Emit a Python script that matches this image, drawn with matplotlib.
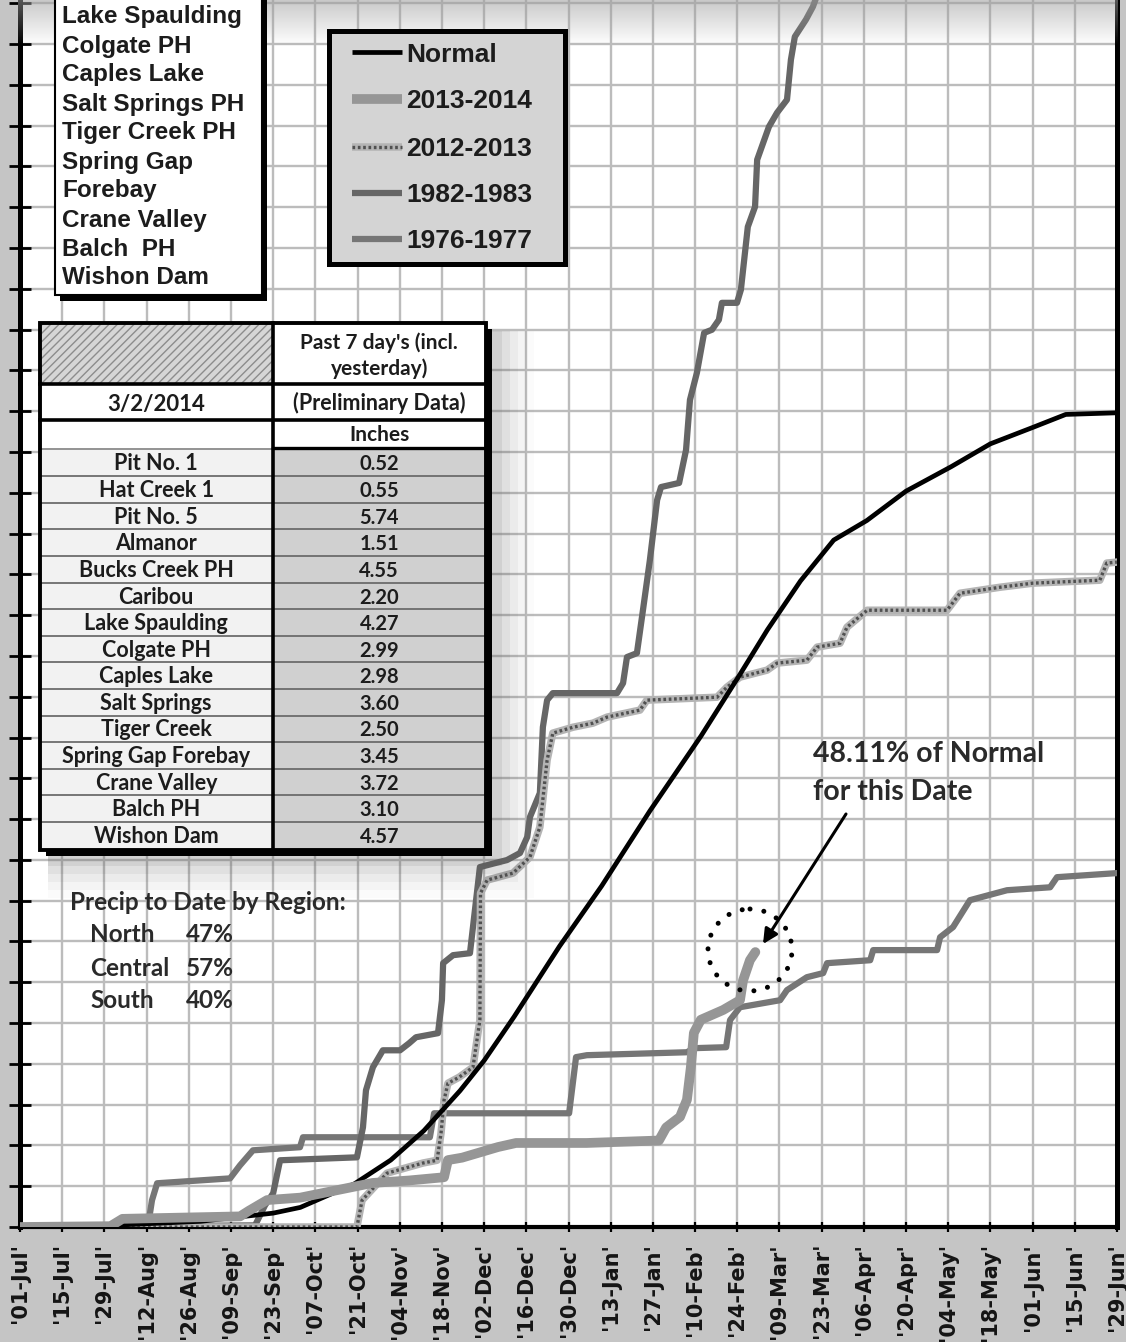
import matplotlib
matplotlib.use("Agg")
import matplotlib.pyplot as plt
from matplotlib.patches import Rectangle, Ellipse
from matplotlib.lines import Line2D
import numpy as np

# ---------------- data ----------------
tick_days = list(range(0, 365, 14))
tick_labels = ["'01-Jul'", "'15-Jul'", "'29-Jul'", "'12-Aug'", "'26-Aug'", "'09-Sep'",
               "'23-Sep'", "'07-Oct'", "'21-Oct'", "'04-Nov'", "'18-Nov'", "'02-Dec'",
               "'16-Dec'", "'30-Dec'", "'13-Jan'", "'27-Jan'", "'10-Feb'", "'24-Feb'",
               "'09-Mar'", "'23-Mar'", "'06-Apr'", "'20-Apr'", "'04-May'", "'18-May'",
               "'01-Jun'", "'15-Jun'", "'29-Jun'"]

normal_days = [0, 30, 60, 84, 93, 111, 123, 134, 146, 154, 164, 179, 193, 209, 226, 239,
               248, 259, 270, 281, 294, 309, 322, 336, 347, 364]
normal_in = [0, 0.1, 0.35, 0.85, 1.2, 2.65, 4.1, 5.9, 8.35, 10.2, 12.9, 17.2, 20.9, 25.5,
             30.1, 33.9, 36.6, 39.6, 42.1, 43.3, 45.1, 46.6, 48.0, 49.0, 49.8, 49.9]

wy2014_days = [0, 30, 34, 73, 76, 82, 93, 105, 117, 129, 140.7, 142, 146.7, 158.6, 164.6,
               188, 212, 214.4, 219, 221.3, 222.6, 223.6, 225.9, 233.3, 238.9, 239.9,
               242.2, 244]
wy2014_in = [0, 0.05, 0.5, 0.65, 1.0, 1.65, 1.8, 2.25, 2.7, 2.85, 3.05, 4.1, 4.25, 4.9,
             5.15, 5.15, 5.3, 6.1, 6.75, 7.8, 9.8, 11.9, 12.7, 13.3, 13.9, 15.1, 16.35, 16.85]

wy2013_days = [0, 111.8, 113.5, 121.8, 133.7, 138.4, 139.7, 140.7, 142, 145.7, 150.3, 152.6,
               152.8, 155, 163.6, 169.2, 172.5, 174.9, 176.8, 183.5, 190.1, 194.8, 205.7,
               208, 231.3, 234.6, 238.9, 247.9, 251.2, 261.1, 264.5, 272.1, 274.4, 281.1,
               307.6, 311.9, 325.2, 336.1, 358.3, 360.6, 364]
wy2013_in = [0, 0, 1.64, 3.3, 3.92, 4.09, 5.75, 7.77, 8.81, 9.18, 9.79, 12.68, 20.46, 21.26,
             21.69, 22.67, 24.51, 28.61, 30.27, 30.63, 30.88, 31.25, 31.68, 32.29, 32.47,
             33.09, 33.7, 34.13, 34.56, 34.74, 35.54, 35.78, 36.76, 37.8, 37.8, 38.84,
             39.21, 39.46, 39.64, 40.69, 40.75]

wy1983_days = [0, 78, 81.3, 84, 86.3, 111.8, 113.8, 114.8, 117.1, 120.4, 126.1, 129.1, 131.4,
               138.7, 140, 140.4, 143.7, 149.3, 150.3, 151.6, 152.6, 161.6, 165.9, 168.3,
               169.2, 172.5, 173.5, 174.9, 176.8, 198.1, 200.1, 201.4, 204.7, 206.7, 209,
               211.4, 212.7, 218.7, 221, 222.3, 224.6, 227, 229.6, 231.9, 232.9, 237.9,
               239.2, 241.5, 243.9, 244.6, 248.5, 251.2, 254.5, 255.8, 257.1, 260.8, 263.1,
               265.5]
wy1983_in = [0, 0.1, 1.33, 2.07, 4.09, 4.27, 6.11, 8.38, 9.79, 10.83, 10.83, 11.26, 11.63,
             11.88, 13.9, 16.17, 16.66, 16.78, 18.38, 20.46, 22.06, 22.49, 22.92, 23.9,
             25.12, 26.6, 30.64, 32.29, 32.72, 32.72, 33.33, 34.93, 35.17, 37.8, 40.87,
             44.55, 45.35, 45.6, 47.62, 50.69, 52.35, 54.8, 54.99, 55.6, 56.64, 56.64,
             57.44, 61.3, 62.53, 65.41, 67.43, 68.29, 69.09, 71.54, 72.95, 74.0, 74.79, 76.0]

wy1977_days = [0, 42.5, 43.8, 45.5, 69.7, 73, 77.3, 92.9, 93.9, 136, 137.4, 182.2, 184.5,
               188.1, 221.3, 223.6, 234.3, 235.6, 238.9, 252.2, 254.5, 261.1, 266.5, 267.8,
               282.1, 283.1, 304.3, 305.3, 309.6, 315.2, 327.5, 341.8, 344.1, 364]
wy1977_in = [0, 0.1, 1.64, 2.68, 2.98, 3.78, 4.7, 4.89, 5.5, 5.5, 6.97, 6.97, 10.41, 10.53,
             10.71, 10.96, 11.02, 12.68, 13.47, 13.9, 14.52, 15.31, 15.56, 16.17, 16.35,
             16.97, 16.97, 17.76, 18.38, 20.03, 20.64, 20.82, 21.44, 21.69]

series_labels = ["Normal", "2013-2014", "2012-2013", "1982-1983", "1976-1977"]

station_list = ["Lake Spaulding", "Colgate PH", "Caples Lake", "Salt Springs PH",
                "Tiger Creek PH", "Spring Gap", "Forebay", "Crane Valley", "Balch  PH",
                "Wishon Dam"]

table_stations = ["Pit No. 1", "Hat Creek 1", "Pit No. 5", "Almanor", "Bucks Creek PH",
                  "Caribou", "Lake Spaulding", "Colgate PH", "Caples Lake", "Salt Springs",
                  "Tiger Creek", "Spring Gap Forebay", "Crane Valley", "Balch PH",
                  "Wishon Dam"]
table_values = [0.52, 0.55, 5.74, 1.51, 4.55, 2.20, 4.27, 2.99, 2.98, 3.60, 2.50, 3.45,
                3.72, 3.10, 4.57]
report_date = "3/2/2014"

region_names = ["North", "Central", "South"]
region_pct = [47, 57, 40]
pct_of_normal = 48.11
current_day = 244

# ---------------- figure ----------------
W, H = 1126, 1342
fig = plt.figure(figsize=(W / 100, H / 100), dpi=100, facecolor="#c5c5c5")
ax = fig.add_axes([20 / W, 1 - 1227 / H, 1097 / W, 1227 / H])
ax.set_facecolor("white")
ax.set_xlim(0, 364)
ax.set_ylim(0, 75.2)
ax.set_xticks(tick_days)
ax.set_xticklabels(tick_labels, rotation=90, fontfamily="DejaVu Sans",
                   fontweight="bold", fontsize=15, color="#141414")
ax.set_yticks(np.arange(0, 75.1, 2.5))
ax.grid(True, color="#bcbcbc", lw=1.7)
ax.set_axisbelow(True)
ax.tick_params(axis="y", direction="inout", length=16.5, width=2.0, labelleft=False)
ax.tick_params(axis="x", direction="inout", length=7, width=1.6, pad=8)
ax.spines["top"].set_visible(False)
ax.spines["left"].set_linewidth(3.6)
ax.spines["bottom"].set_linewidth(3.0)
ax.spines["right"].set_linewidth(3.6)

sty_normal = dict(color="black", lw=3.4, solid_joinstyle="round")
sty_2014 = dict(color="#969696", lw=7.0, solid_capstyle="round", solid_joinstyle="round")
sty_2013_base = dict(color="#b4b4b4", lw=5.4, solid_joinstyle="round")
sty_2013_dots = dict(color="#505050", lw=2.4, dashes=(0.8, 0.8))
sty_1983 = dict(color="#666666", lw=4.5, solid_joinstyle="round")
sty_1977 = dict(color="#767676", lw=4.5, solid_joinstyle="round")

ax.plot(wy1977_days, wy1977_in, **sty_1977, zorder=3)
ax.plot(wy1983_days, wy1983_in, **sty_1983, zorder=4)
ax.plot(wy2013_days, wy2013_in, **sty_2013_base, zorder=5)
ax.plot(wy2013_days, wy2013_in, **sty_2013_dots, zorder=5.1)
ax.plot(normal_days, normal_in, **sty_normal, zorder=6)
ax.plot(wy2014_days, wy2014_in, **sty_2014, zorder=7)

# ---------------- overlay (pixel coordinates) ----------------
ov = fig.add_axes([0, 0, 1, 1], zorder=5)
ov.patch.set_alpha(0)
grad = np.zeros((46, 1, 4))
grad[..., :3] = 0.62
grad[:, 0, 3] = np.linspace(0.55, 0.0, 46)
ov.imshow(grad, extent=(18, 1118, 46, 0), aspect="auto", interpolation="bilinear", zorder=0)
ov.set_xlim(0, W)
ov.set_ylim(H, 0)
ov.axis("off")

txtc = "#1c1c1c"

# station list box (top-left, partly cut off)
ov.add_patch(Rectangle((60, -20), 207, 321, fc="black", ec="none", zorder=1))
ov.add_patch(Rectangle((55, -20), 207, 315, fc="white", ec="black", lw=1.5, zorder=2))
for i, s in enumerate(station_list):
    ov.text(62, 23.5 + 29.0 * i, s, fontsize=17.5, fontweight="bold",
            fontfamily="Liberation Sans", color=txtc, va="baseline", ha="left", zorder=3)

# series legend box
ov.add_patch(Rectangle((328.5, 30.5), 236, 233, fc="#d4d4d4", ec="black", lw=3.6, zorder=2))
leg_y = [52, 99, 147, 193, 239]
leg_styles = [[sty_normal], [sty_2014], [sty_2013_base, sty_2013_dots], [sty_1983], [sty_1977]]
for y, lab, stys in zip(leg_y, series_labels, leg_styles):
    for st in stys:
        st2 = dict(st)
        st2.pop("solid_capstyle", None)
        ov.add_line(Line2D([352, 402], [y, y], zorder=3, solid_capstyle="butt", **st2))
    ov.text(406, y + 9.5, lab, fontsize=19, fontweight="bold", fontfamily="Liberation Sans",
            color=txtc, va="baseline", ha="left", zorder=3)

# data table
tx0, tx1, tdiv = 40, 486, 272.5
ty0, ty1 = 323, 850
# soft shadow glow
for k, a in enumerate([0.10, 0.08, 0.06, 0.04, 0.02]):
    ov.add_patch(Rectangle((tx0 + 8, ty0 + 8), tx1 - tx0 + 8 * (k + 1), ty1 - ty0 + 8 * (k + 1),
                           fc="#5a5a5a", alpha=a, ec="none", zorder=0.5))
ov.add_patch(Rectangle((tx0 + 6, ty0 + 6), tx1 - tx0, ty1 - ty0, fc="black", zorder=1))
ov.add_patch(Rectangle((tx0, ty0), tx1 - tx0, ty1 - ty0, fc="white", ec="none", zorder=2))
ov.add_patch(Rectangle((tx0, ty0), tdiv - tx0, 383.5 - ty0, fc="#d6d6d6", ec="#8c8c8c",
                       lw=0, hatch="////", zorder=2.1))
row_top, row_h = 449.5, 26.6
nrows = len(table_stations)
ov.add_patch(Rectangle((tx0, row_top), tdiv - tx0, row_h * nrows, fc="#f2f2f2", ec="none",
                       zorder=2.1))
ov.add_patch(Rectangle((tdiv, row_top), tx1 - tdiv, row_h * nrows, fc="#d0d0d0", ec="none",
                       zorder=2.1))
for k in range(1, nrows):
    yk = row_top + row_h * k
    ov.plot([tx0, tx1], [yk, yk], color="#6c6c6c", lw=1.3, zorder=2.5)
ov.plot([tx0, tdiv], [row_top - 1, row_top - 1], color="#8a8a8a", lw=1.3, zorder=2.5)
ov.plot([tdiv, tx1], [row_top - 1.5, row_top - 1.5], color="black", lw=2.4, zorder=2.6)
for yk in (383.5, 419.5):
    ov.plot([tx0, tx1], [yk, yk], color="black", lw=2.6, zorder=2.6)
ov.plot([tdiv, tdiv], [ty0, ty1], color="black", lw=2.6, zorder=2.6)
ov.add_patch(Rectangle((tx0, ty0), tx1 - tx0, ty1 - ty0, fc="none", ec="black", lw=2.8,
                       zorder=2.7))

cl, cr = (tx0 + tdiv) / 2, (tdiv + tx1) / 2
tfont = dict(fontfamily="Lato", fontweight="bold", color=txtc, ha="center", va="baseline",
             zorder=3)
ov.text(cr, 349, "Past 7 day's (incl.", fontsize=15, **tfont)
ov.text(cr, 375, "yesterday)", fontsize=15, **tfont)
ov.text(cl, 411, report_date, fontsize=16, **tfont)
ov.text(cr, 410, "(Preliminary Data)", fontsize=15.5, **tfont)
ov.text(cr, 441, "Inches", fontsize=15, **tfont)
for i, (nm, v) in enumerate(zip(table_stations, table_values)):
    yb = row_top + row_h * i + 21.0
    ov.text(cl, yb, nm, fontsize=15.5, **tfont)
    ov.text(cr, yb, f"{v:.2f}", fontsize=14.5, **tfont)

# regional summary
rfont = dict(fontfamily="Lato", fontweight="bold", color="#2a2a2a", va="baseline", zorder=3)
ov.text(70, 910, "Precip to Date by Region:", fontsize=17.5, ha="left", **rfont)
for yb, nm, p in zip([942, 976, 1008], region_names, region_pct):
    ov.text(90, yb, nm, fontsize=17.5, ha="left", **rfont)
    ov.text(186, yb, f"{p}%", fontsize=17.5, ha="left", **rfont)

# annotation of current value
ov.text(813, 762, f"{pct_of_normal:.2f}% of Normal", fontsize=20.5, ha="left", **rfont)
ov.text(813, 800, "for this Date", fontsize=20.5, ha="left", **rfont)
ov.annotate("", xy=(763, 944), xytext=(846, 814),
            arrowprops=dict(arrowstyle="-|>", color="black", lw=2.2, mutation_scale=22,
                            shrinkA=0, shrinkB=0), zorder=4)
circ = Ellipse((750, 950), 84, 82, fill=False, ec="black", lw=3.6,
               linestyle=(0, (0.01, 2.8)), capstyle="round", zorder=4)
ov.add_patch(circ)

fig.savefig("out.png", dpi=100, facecolor=fig.get_facecolor())
